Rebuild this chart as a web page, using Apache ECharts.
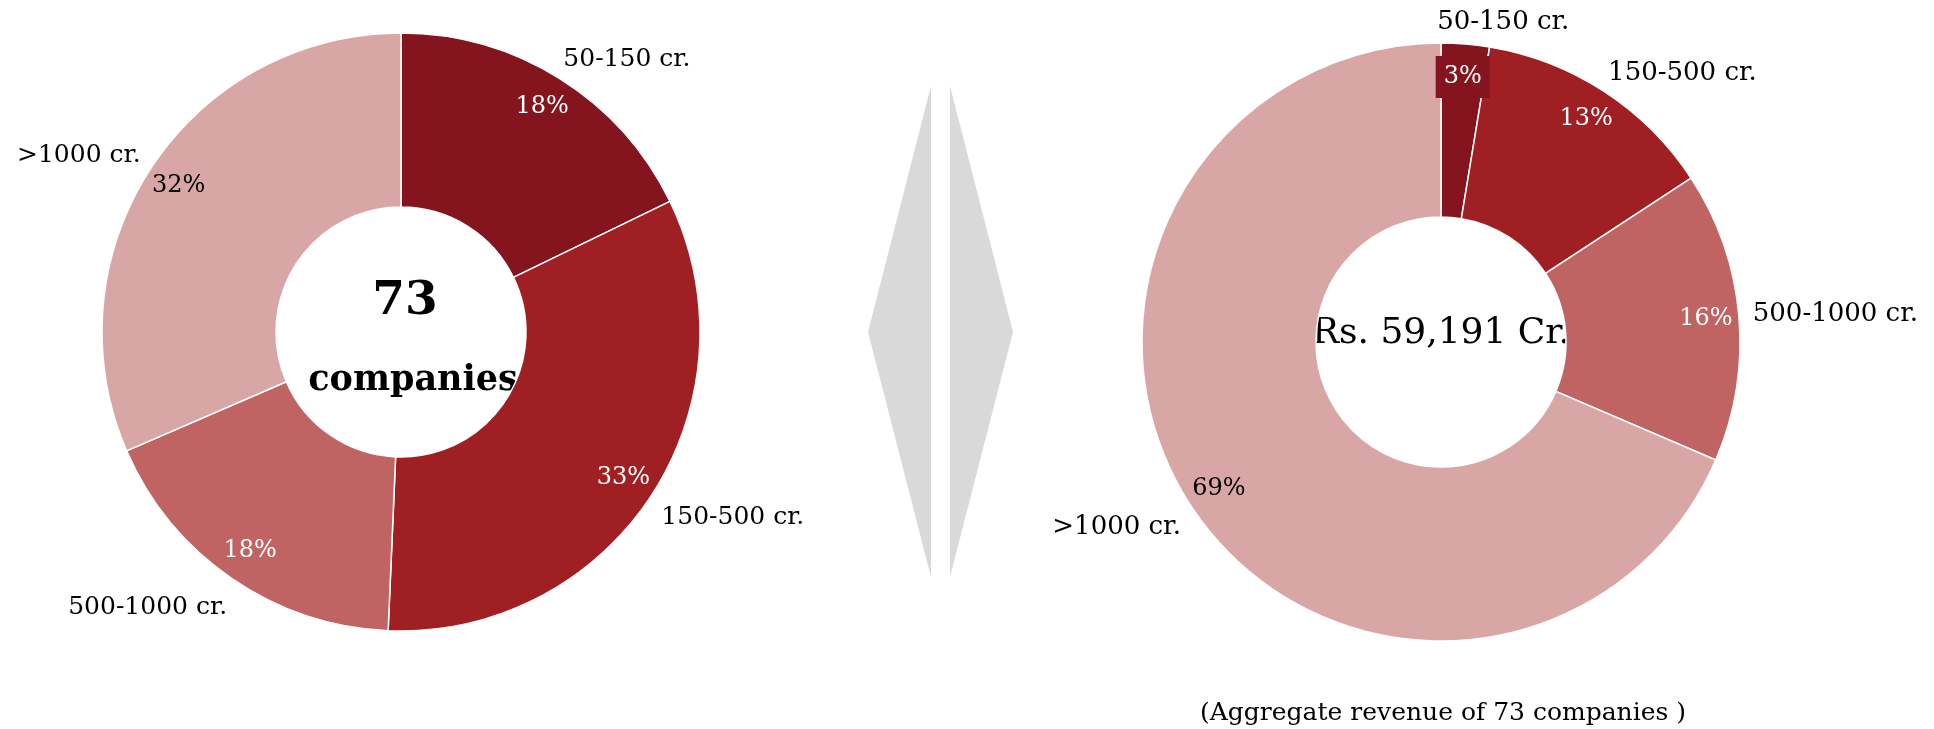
<!DOCTYPE html>
<html>
<head>
<meta charset="utf-8">
<script src="https://cdn.jsdelivr.net/npm/echarts@6/dist/echarts.min.js"></script>
<style>
  html, body { margin: 0; padding: 0; background: #fff; }
  #main { width: 1934px; height: 729px; }
</style>
</head>
<body>
<div id="main"></div>
<script>
    // slice names, same for both donuts
    var categories = ['50-150 cr.', '150-500 cr.', '500-1000 cr.', '>1000 cr.'];
    // number of companies per revenue band (73 in all)
    var companyCounts = [13, 24, 13, 23];
    // revenue per band, Rs. crore (59,191 in all)
    var revenueCr = [1540, 7790, 9290, 40571];

    var sliceColors = ['#84151f', '#a01f22', '#bf6463', '#d9a6a6'];
    var pctColors = ['#fff', '#fff', '#fff', '#000'];
    var font = 'DejaVu Serif';

    function sum(arr) {
        return arr.reduce(function (a, b) { return a + b; }, 0);
    }

    function donut(values, center, fontSize) {
        var total = sum(values);
        var base = {
            type: 'pie',
            center: center,
            startAngle: 90,
            clockwise: true,
            avoidLabelOverlap: false,
            animation: false
        };
        var rings = Object.assign({}, base, {
            radius: [125, 299],
            itemStyle: {borderColor: '#fff', borderWidth: 1.5},
            emphasis: {disabled: true},
            label: {
                position: 'outside', color: '#000',
                fontFamily: font, fontSize: fontSize,
                distanceToLabelLine: 0,
                formatter: '{b}'
            },
            labelLine: {show: false, length: 22, length2: -8},
            data: categories.map(function (name, i) {
                return {name: name, value: values[i], itemStyle: {color: sliceColors[i]}};
            })
        });
        var pct = Object.assign({}, base, {
            radius: [227, 299],
            silent: true,
            itemStyle: {color: 'transparent', borderWidth: 0},
            emphasis: {disabled: true},
            label: {
                position: 'inside', fontFamily: font, fontSize: 24,
                formatter: function (p) {
                    return Math.round(p.value / total * 100) + '%';
                }
            },
            labelLine: {show: false},
            data: categories.map(function (name, i) {
                return {name: name, value: values[i], label: {color: pctColors[i]}};
            })
        });
        return [rings, pct];
    }

    var chart = echarts.init(document.getElementById('main'));
    window.addEventListener("resize", function () {
        chart.resize()
    });

    var leftSeries = donut(companyCounts, [401, 332], 25);
    var rightSeries = donut(revenueCr, [1441, 342], 26);
    // names below the middle sit a little lower in the source
    leftSeries[0].data[1].label = {offset: [0, 9]};
    leftSeries[0].data[2].label = {offset: [0, 11]};
    rightSeries[0].data[3].label = {offset: [0, 9]};
    // top label of the right donut sits almost over the centre line
    rightSeries[0].data[0].labelLine = {length2: -30};
    // the small 3% label sits on a dark box in the source
    rightSeries[1].data[0].label.backgroundColor = sliceColors[0];
    rightSeries[1].data[0].label.padding = [9, 8];

    chart.setOption({
        backgroundColor: '#fff',
        series: leftSeries.concat(rightSeries),
        graphic: [
            {type: 'polygon', shape: {points: [[931, 86], [868, 332], [931, 577]]}, style: {fill: '#d9d9d9'}},
            {type: 'polygon', shape: {points: [[950, 86], [1013, 332], [950, 577]]}, style: {fill: '#d9d9d9'}},
            {type: 'text', x: 405, y: 302, style: {text: '73', font: 'bold 47px "DejaVu Serif"', fill: '#000', align: 'center', verticalAlign: 'middle'}},
            {type: 'text', x: 413, y: 381, style: {text: 'companies', font: 'bold 35px "DejaVu Serif"', fill: '#000', align: 'center', verticalAlign: 'middle'}},
            {type: 'text', x: 1441, y: 334, style: {text: 'Rs. 59,191 Cr.', font: '36px "DejaVu Serif"', fill: '#000', align: 'center', verticalAlign: 'middle'}},
            {type: 'text', x: 1443, y: 713, style: {text: '(Aggregate revenue of 73 companies )', font: '25px "DejaVu Serif"', fill: '#000', align: 'center', verticalAlign: 'middle'}}
        ]
    });
</script>
</body>
</html>
